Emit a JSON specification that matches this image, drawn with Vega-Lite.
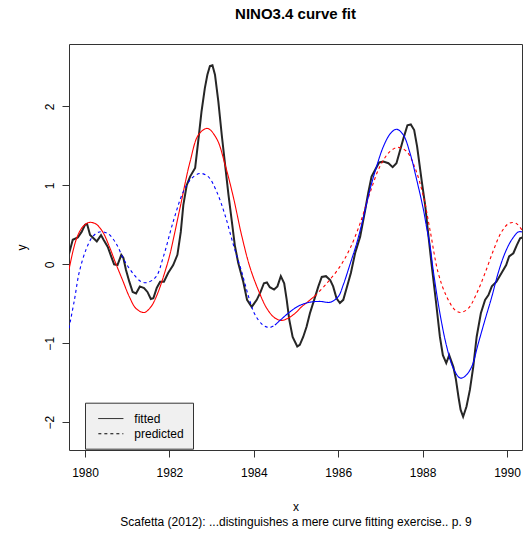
{
  "$schema": "https://vega.github.io/schema/vega-lite/v6.json",
  "width": 453,
  "height": 406,
  "autosize": {"type": "none"},
  "padding": {"left": 69, "top": 44, "right": 1, "bottom": 86},
  "background": "white",
  "title": {"text": "NINO3.4 curve fit", "fontSize": 15, "font": "Liberation Sans", "fontWeight": "bold", "anchor": "middle", "offset": 22, "color": "black"},
  "config": {"view": {"stroke": "#333", "strokeWidth": 1}, "font": "Liberation Sans"},
  "datasets": {
    "obs": [
      {"year": 1979.62, "y": 0.13}, {"year": 1979.645, "y": 0.18}, {"year": 1979.71, "y": 0.31}, {"year": 1979.83, "y": 0.34},
      {"year": 1979.92, "y": 0.41}, {"year": 1980.0, "y": 0.5}, {"year": 1980.05, "y": 0.51}, {"year": 1980.12, "y": 0.37},
      {"year": 1980.22, "y": 0.32}, {"year": 1980.28, "y": 0.29}, {"year": 1980.38, "y": 0.37}, {"year": 1980.44, "y": 0.31},
      {"year": 1980.54, "y": 0.22}, {"year": 1980.62, "y": 0.1}, {"year": 1980.69, "y": 0.0}, {"year": 1980.77, "y": -0.01},
      {"year": 1980.86, "y": 0.12}, {"year": 1980.91, "y": 0.08}, {"year": 1980.97, "y": -0.07}, {"year": 1981.05, "y": -0.22},
      {"year": 1981.13, "y": -0.35}, {"year": 1981.21, "y": -0.37}, {"year": 1981.3, "y": -0.28}, {"year": 1981.4, "y": -0.3},
      {"year": 1981.48, "y": -0.35}, {"year": 1981.56, "y": -0.44}, {"year": 1981.62, "y": -0.43}, {"year": 1981.7, "y": -0.3},
      {"year": 1981.78, "y": -0.22}, {"year": 1981.87, "y": -0.22}, {"year": 1981.97, "y": -0.11}, {"year": 1982.09, "y": -0.01},
      {"year": 1982.19, "y": 0.12}, {"year": 1982.27, "y": 0.41}, {"year": 1982.33, "y": 0.75}, {"year": 1982.41, "y": 1.0},
      {"year": 1982.49, "y": 1.11}, {"year": 1982.61, "y": 1.22}, {"year": 1982.69, "y": 1.59}, {"year": 1982.76, "y": 1.93},
      {"year": 1982.84, "y": 2.23}, {"year": 1982.9, "y": 2.4}, {"year": 1982.96, "y": 2.51}, {"year": 1983.02, "y": 2.52},
      {"year": 1983.08, "y": 2.4}, {"year": 1983.16, "y": 2.06}, {"year": 1983.24, "y": 1.64}, {"year": 1983.32, "y": 1.26},
      {"year": 1983.4, "y": 0.88}, {"year": 1983.48, "y": 0.54}, {"year": 1983.55, "y": 0.24}, {"year": 1983.63, "y": 0.02},
      {"year": 1983.75, "y": -0.22}, {"year": 1983.84, "y": -0.45}, {"year": 1983.95, "y": -0.54}, {"year": 1984.07, "y": -0.45},
      {"year": 1984.16, "y": -0.35}, {"year": 1984.24, "y": -0.24}, {"year": 1984.31, "y": -0.23}, {"year": 1984.38, "y": -0.29},
      {"year": 1984.48, "y": -0.32}, {"year": 1984.56, "y": -0.28}, {"year": 1984.64, "y": -0.15}, {"year": 1984.72, "y": -0.24},
      {"year": 1984.78, "y": -0.45}, {"year": 1984.84, "y": -0.7}, {"year": 1984.92, "y": -0.92}, {"year": 1985.03, "y": -1.04},
      {"year": 1985.09, "y": -1.02}, {"year": 1985.17, "y": -0.92}, {"year": 1985.25, "y": -0.79}, {"year": 1985.33, "y": -0.62},
      {"year": 1985.43, "y": -0.45}, {"year": 1985.53, "y": -0.28}, {"year": 1985.61, "y": -0.16}, {"year": 1985.71, "y": -0.15},
      {"year": 1985.81, "y": -0.2}, {"year": 1985.88, "y": -0.28}, {"year": 1985.96, "y": -0.43}, {"year": 1986.04, "y": -0.49},
      {"year": 1986.12, "y": -0.45}, {"year": 1986.2, "y": -0.3}, {"year": 1986.3, "y": -0.11}, {"year": 1986.4, "y": 0.14},
      {"year": 1986.52, "y": 0.35}, {"year": 1986.64, "y": 0.69}, {"year": 1986.71, "y": 0.9}, {"year": 1986.79, "y": 1.11},
      {"year": 1986.87, "y": 1.19}, {"year": 1986.97, "y": 1.29}, {"year": 1987.07, "y": 1.3}, {"year": 1987.19, "y": 1.28},
      {"year": 1987.29, "y": 1.23}, {"year": 1987.38, "y": 1.28}, {"year": 1987.46, "y": 1.43}, {"year": 1987.56, "y": 1.62},
      {"year": 1987.64, "y": 1.76}, {"year": 1987.72, "y": 1.77}, {"year": 1987.8, "y": 1.7}, {"year": 1987.87, "y": 1.49},
      {"year": 1987.98, "y": 1.05}, {"year": 1988.06, "y": 0.75}, {"year": 1988.12, "y": 0.45}, {"year": 1988.21, "y": 0.01},
      {"year": 1988.32, "y": -0.49}, {"year": 1988.41, "y": -0.92}, {"year": 1988.48, "y": -1.15}, {"year": 1988.56, "y": -1.25},
      {"year": 1988.63, "y": -1.15}, {"year": 1988.73, "y": -1.3}, {"year": 1988.79, "y": -1.46}, {"year": 1988.85, "y": -1.68},
      {"year": 1988.9, "y": -1.84}, {"year": 1988.96, "y": -1.93}, {"year": 1989.04, "y": -1.8}, {"year": 1989.12, "y": -1.59},
      {"year": 1989.2, "y": -1.3}, {"year": 1989.28, "y": -0.92}, {"year": 1989.38, "y": -0.62}, {"year": 1989.48, "y": -0.45},
      {"year": 1989.56, "y": -0.39}, {"year": 1989.64, "y": -0.28}, {"year": 1989.75, "y": -0.22}, {"year": 1989.87, "y": -0.11},
      {"year": 1989.98, "y": -0.01}, {"year": 1990.05, "y": 0.1}, {"year": 1990.15, "y": 0.14}, {"year": 1990.23, "y": 0.24},
      {"year": 1990.31, "y": 0.33}, {"year": 1990.37, "y": 0.34}
    ],
    "models": [
      {"model": "A", "kind": "fitted", "year": 1979.62, "y": -0.07},
      {"model": "A", "kind": "fitted", "year": 1979.79, "y": 0.31},
      {"model": "A", "kind": "fitted", "year": 1979.94, "y": 0.47},
      {"model": "A", "kind": "fitted", "year": 1980.1, "y": 0.53},
      {"model": "A", "kind": "fitted", "year": 1980.26, "y": 0.51},
      {"model": "A", "kind": "fitted", "year": 1980.42, "y": 0.41},
      {"model": "A", "kind": "fitted", "year": 1980.58, "y": 0.22},
      {"model": "A", "kind": "fitted", "year": 1980.73, "y": 0.01},
      {"model": "A", "kind": "fitted", "year": 1980.89, "y": -0.2},
      {"model": "A", "kind": "fitted", "year": 1981.05, "y": -0.41},
      {"model": "A", "kind": "fitted", "year": 1981.21, "y": -0.56},
      {"model": "A", "kind": "fitted", "year": 1981.4, "y": -0.61},
      {"model": "A", "kind": "fitted", "year": 1981.56, "y": -0.54},
      {"model": "A", "kind": "fitted", "year": 1981.72, "y": -0.37},
      {"model": "A", "kind": "fitted", "year": 1981.92, "y": -0.05},
      {"model": "A", "kind": "fitted", "year": 1982.01, "y": 0.12},
      {"model": "A", "kind": "fitted", "year": 1982.25, "y": 0.71},
      {"model": "A", "kind": "fitted", "year": 1982.49, "y": 1.3},
      {"model": "A", "kind": "fitted", "year": 1982.69, "y": 1.64},
      {"model": "A", "kind": "fitted", "year": 1982.9, "y": 1.72},
      {"model": "A", "kind": "fitted", "year": 1983.12, "y": 1.59},
      {"model": "A", "kind": "fitted", "year": 1983.32, "y": 1.26},
      {"model": "A", "kind": "fitted", "year": 1983.52, "y": 0.84},
      {"model": "A", "kind": "fitted", "year": 1983.71, "y": 0.37},
      {"model": "A", "kind": "fitted", "year": 1983.91, "y": -0.04},
      {"model": "A", "kind": "fitted", "year": 1984.11, "y": -0.33},
      {"model": "A", "kind": "fitted", "year": 1984.31, "y": -0.56},
      {"model": "A", "kind": "fitted", "year": 1984.5, "y": -0.68},
      {"model": "A", "kind": "fitted", "year": 1984.66, "y": -0.71},
      {"model": "A", "kind": "fitted", "year": 1984.82, "y": -0.68},
      {"model": "A", "kind": "fitted", "year": 1984.98, "y": -0.62},
      {"model": "A", "kind": "fitted", "year": 1985.13, "y": -0.54},
      {"model": "A", "kind": "fitted", "year": 1985.29, "y": -0.47},
      {"model": "A", "kind": "fitted", "year": 1985.45, "y": -0.4},
      {"model": "A", "kind": "predicted", "year": 1985.45, "y": -0.4},
      {"model": "A", "kind": "predicted", "year": 1985.73, "y": -0.24},
      {"model": "A", "kind": "predicted", "year": 1986.04, "y": -0.03},
      {"model": "A", "kind": "predicted", "year": 1986.28, "y": 0.2},
      {"model": "A", "kind": "predicted", "year": 1986.52, "y": 0.52},
      {"model": "A", "kind": "predicted", "year": 1986.75, "y": 0.9},
      {"model": "A", "kind": "predicted", "year": 1986.99, "y": 1.24},
      {"model": "A", "kind": "predicted", "year": 1987.23, "y": 1.43},
      {"model": "A", "kind": "predicted", "year": 1987.42, "y": 1.48},
      {"model": "A", "kind": "predicted", "year": 1987.62, "y": 1.43},
      {"model": "A", "kind": "predicted", "year": 1987.82, "y": 1.22},
      {"model": "A", "kind": "predicted", "year": 1988.02, "y": 0.86},
      {"model": "A", "kind": "predicted", "year": 1988.18, "y": 0.42},
      {"model": "A", "kind": "predicted", "year": 1988.37, "y": -0.11},
      {"model": "A", "kind": "predicted", "year": 1988.57, "y": -0.41},
      {"model": "A", "kind": "predicted", "year": 1988.77, "y": -0.58},
      {"model": "A", "kind": "predicted", "year": 1988.9, "y": -0.61},
      {"model": "A", "kind": "predicted", "year": 1989.08, "y": -0.56},
      {"model": "A", "kind": "predicted", "year": 1989.28, "y": -0.37},
      {"model": "A", "kind": "predicted", "year": 1989.48, "y": -0.11},
      {"model": "A", "kind": "predicted", "year": 1989.68, "y": 0.18},
      {"model": "A", "kind": "predicted", "year": 1989.87, "y": 0.41},
      {"model": "A", "kind": "predicted", "year": 1990.05, "y": 0.52},
      {"model": "A", "kind": "predicted", "year": 1990.21, "y": 0.52},
      {"model": "A", "kind": "predicted", "year": 1990.36, "y": 0.43},
      {"model": "B", "kind": "predicted", "year": 1979.62, "y": -0.81},
      {"model": "B", "kind": "predicted", "year": 1979.75, "y": -0.45},
      {"model": "B", "kind": "predicted", "year": 1979.86, "y": -0.11},
      {"model": "B", "kind": "predicted", "year": 1980.02, "y": 0.18},
      {"model": "B", "kind": "predicted", "year": 1980.18, "y": 0.35},
      {"model": "B", "kind": "predicted", "year": 1980.34, "y": 0.41},
      {"model": "B", "kind": "predicted", "year": 1980.54, "y": 0.39},
      {"model": "B", "kind": "predicted", "year": 1980.73, "y": 0.27},
      {"model": "B", "kind": "predicted", "year": 1980.93, "y": 0.05},
      {"model": "B", "kind": "predicted", "year": 1981.13, "y": -0.11},
      {"model": "B", "kind": "predicted", "year": 1981.33, "y": -0.22},
      {"model": "B", "kind": "predicted", "year": 1981.48, "y": -0.23},
      {"model": "B", "kind": "predicted", "year": 1981.68, "y": -0.16},
      {"model": "B", "kind": "predicted", "year": 1981.86, "y": 0.1},
      {"model": "B", "kind": "predicted", "year": 1982.09, "y": 0.54},
      {"model": "B", "kind": "predicted", "year": 1982.33, "y": 0.92},
      {"model": "B", "kind": "predicted", "year": 1982.53, "y": 1.09},
      {"model": "B", "kind": "predicted", "year": 1982.73, "y": 1.15},
      {"model": "B", "kind": "predicted", "year": 1982.92, "y": 1.11},
      {"model": "B", "kind": "predicted", "year": 1983.12, "y": 0.92},
      {"model": "B", "kind": "predicted", "year": 1983.32, "y": 0.62},
      {"model": "B", "kind": "predicted", "year": 1983.52, "y": 0.24},
      {"model": "B", "kind": "predicted", "year": 1983.71, "y": -0.09},
      {"model": "B", "kind": "predicted", "year": 1983.91, "y": -0.47},
      {"model": "B", "kind": "predicted", "year": 1984.03, "y": -0.64},
      {"model": "B", "kind": "predicted", "year": 1984.22, "y": -0.77},
      {"model": "B", "kind": "predicted", "year": 1984.38, "y": -0.8},
      {"model": "B", "kind": "predicted", "year": 1984.5, "y": -0.77},
      {"model": "B", "kind": "fitted", "year": 1984.5, "y": -0.77},
      {"model": "B", "kind": "fitted", "year": 1984.86, "y": -0.6},
      {"model": "B", "kind": "fitted", "year": 1985.09, "y": -0.52},
      {"model": "B", "kind": "fitted", "year": 1985.33, "y": -0.48},
      {"model": "B", "kind": "fitted", "year": 1985.57, "y": -0.47},
      {"model": "B", "kind": "fitted", "year": 1985.81, "y": -0.48},
      {"model": "B", "kind": "fitted", "year": 1986.0, "y": -0.41},
      {"model": "B", "kind": "fitted", "year": 1986.12, "y": -0.26},
      {"model": "B", "kind": "fitted", "year": 1986.28, "y": 0.0},
      {"model": "B", "kind": "fitted", "year": 1986.44, "y": 0.27},
      {"model": "B", "kind": "fitted", "year": 1986.6, "y": 0.6},
      {"model": "B", "kind": "fitted", "year": 1986.75, "y": 0.94},
      {"model": "B", "kind": "fitted", "year": 1986.91, "y": 1.24},
      {"model": "B", "kind": "fitted", "year": 1987.07, "y": 1.49},
      {"model": "B", "kind": "fitted", "year": 1987.23, "y": 1.65},
      {"model": "B", "kind": "fitted", "year": 1987.38, "y": 1.71},
      {"model": "B", "kind": "fitted", "year": 1987.54, "y": 1.64},
      {"model": "B", "kind": "fitted", "year": 1987.7, "y": 1.41},
      {"model": "B", "kind": "fitted", "year": 1987.86, "y": 1.07},
      {"model": "B", "kind": "fitted", "year": 1988.02, "y": 0.69},
      {"model": "B", "kind": "fitted", "year": 1988.09, "y": 0.48},
      {"model": "B", "kind": "fitted", "year": 1988.18, "y": 0.22},
      {"model": "B", "kind": "fitted", "year": 1988.25, "y": -0.07},
      {"model": "B", "kind": "fitted", "year": 1988.41, "y": -0.62},
      {"model": "B", "kind": "fitted", "year": 1988.57, "y": -1.04},
      {"model": "B", "kind": "fitted", "year": 1988.73, "y": -1.32},
      {"model": "B", "kind": "fitted", "year": 1988.89, "y": -1.44},
      {"model": "B", "kind": "fitted", "year": 1989.0, "y": -1.42},
      {"model": "B", "kind": "fitted", "year": 1989.16, "y": -1.3},
      {"model": "B", "kind": "fitted", "year": 1989.32, "y": -1.0},
      {"model": "B", "kind": "fitted", "year": 1989.48, "y": -0.7},
      {"model": "B", "kind": "fitted", "year": 1989.64, "y": -0.41},
      {"model": "B", "kind": "fitted", "year": 1989.79, "y": -0.11},
      {"model": "B", "kind": "fitted", "year": 1989.95, "y": 0.14},
      {"model": "B", "kind": "fitted", "year": 1990.11, "y": 0.31},
      {"model": "B", "kind": "fitted", "year": 1990.27, "y": 0.41},
      {"model": "B", "kind": "fitted", "year": 1990.36, "y": 0.41}
    ]
  },
  "encoding": {
    "x": {
      "field": "year", "type": "quantitative",
      "scale": {"domain": [1979.621, 1990.355], "nice": false, "zero": false},
      "axis": {
        "values": [1980, 1982, 1984, 1986, 1988, 1990], "format": "d",
        "domain": false, "grid": false, "tickSize": 7, "tickColor": "#333",
        "labelFontSize": 12, "labelColor": "black", "labelPadding": 10, "labelFlush": false, "labelOverlap": false,
        "title": ["x", "Scafetta (2012): ...distinguishes a mere curve fitting exercise.. p. 9"],
        "titleFontSize": 12, "titleFontWeight": "normal", "titleColor": "black", "titleLineHeight": 15,
        "titleBaseline": "alphabetic", "titleY": 60
      }
    },
    "y": {
      "field": "y", "type": "quantitative",
      "scale": {"domain": [-2.351, 2.789], "nice": false, "zero": false},
      "axis": {
        "values": [-2, -1, 0, 1, 2],
        "domain": false, "grid": false, "tickSize": 7, "tickColor": "#333",
        "labelFontSize": 12, "labelColor": "black", "labelAngle": 270, "labelAlign": "center", "labelBaseline": "bottom",
        "labelPadding": 6, "labelFlush": false, "labelOverlap": false,
        "title": "y", "titleFontSize": 12, "titleFontWeight": "normal", "titleColor": "black",
        "titleAngle": 270, "titleAlign": "center", "titleBaseline": "alphabetic", "titleX": -44, "titleY": 203
      }
    }
  },
  "layer": [
    {
      "data": {"name": "obs"},
      "mark": {"type": "line", "color": "#262626", "strokeWidth": 2, "clip": true}
    },
    {
      "data": {"name": "models"},
      "mark": {"type": "line", "interpolate": "catmull-rom", "strokeWidth": 1.1, "clip": true},
      "encoding": {
        "color": {"field": "model", "type": "nominal", "scale": {"domain": ["A", "B"], "range": ["#ff0000", "#0000ff"]}, "legend": null},
        "strokeDash": {
          "field": "kind", "type": "nominal",
          "scale": {"domain": ["fitted", "predicted"], "range": [[1, 0], [3, 3]]},
          "legend": {
            "orient": "none", "legendX": 16, "legendY": 358.7, "title": null,
            "fillColor": "#f0f0f0", "strokeColor": "#333", "padding": 8.85, "cornerRadius": 0,
            "symbolType": "M-2,0H2", "symbolSize": 156.25, "symbolStrokeColor": "black", "symbolStrokeWidth": 1,
            "symbolOffset": 10, "labelOffset": 16.5, "labelFontSize": 12, "labelColor": "black",
            "labelFont": "Liberation Sans", "rowPadding": 2.2
          }
        }
      }
    }
  ]
}
